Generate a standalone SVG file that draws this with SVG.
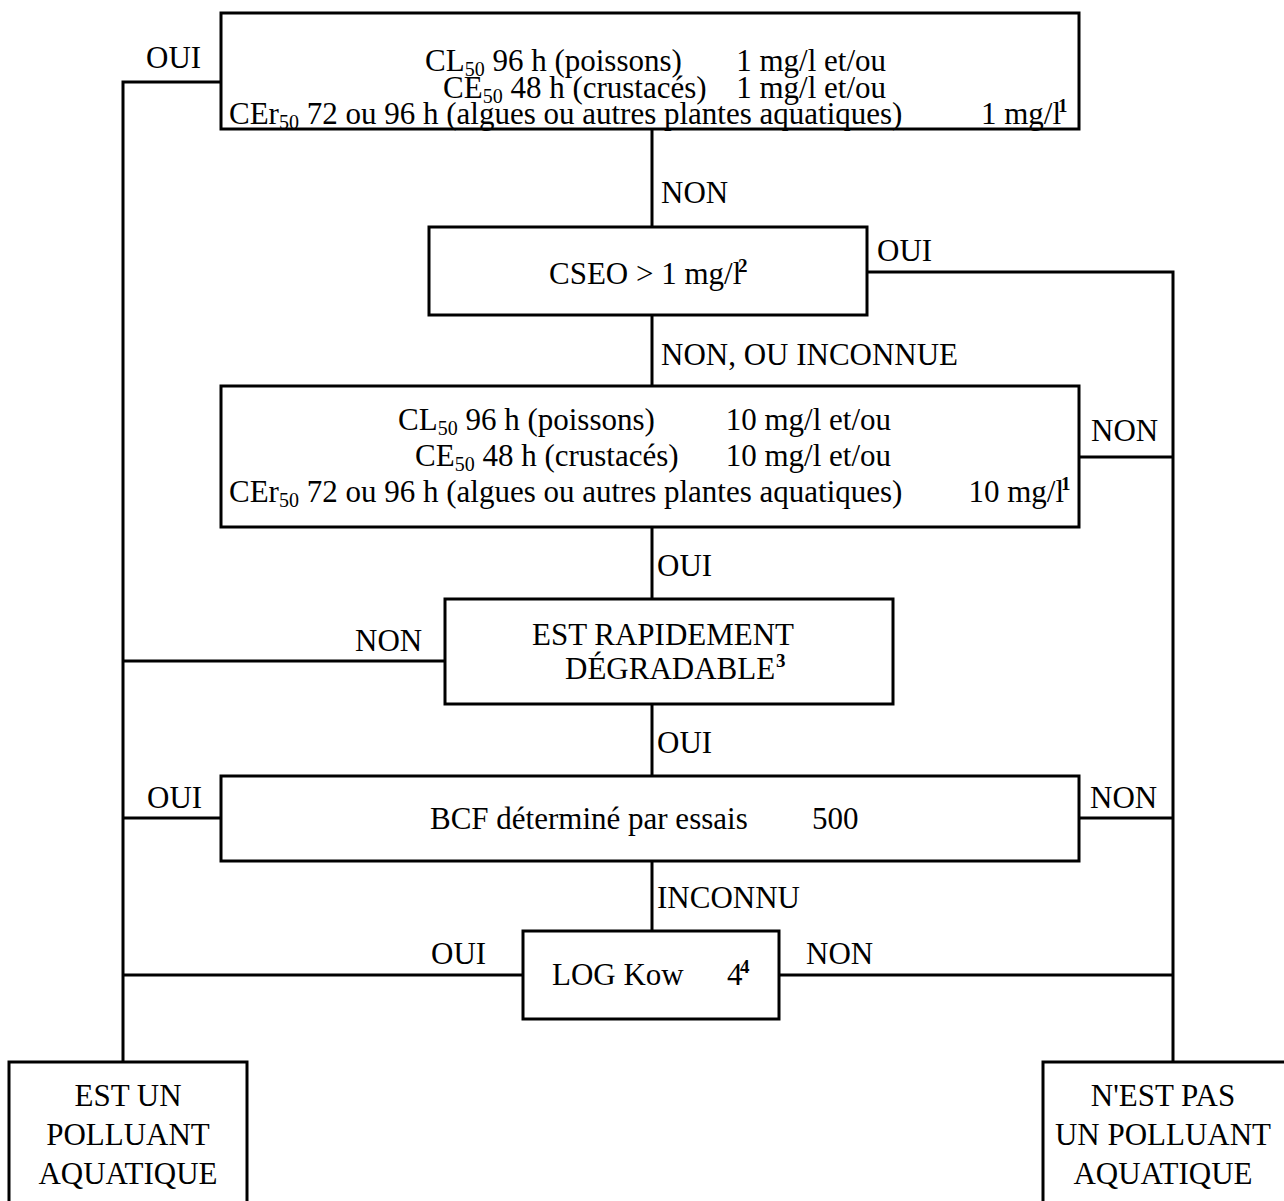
<svg xmlns="http://www.w3.org/2000/svg" width="1284" height="1201" viewBox="0 0 1284 1201">
<style>
  rect.box { fill: #fff; stroke: #000; stroke-width: 3; }
  .c path { stroke: #000; stroke-width: 3; fill: none; }
  text { font-family: "Liberation Serif", "Times New Roman", serif; font-size: 31px; fill: #000; }
  .sub { font-size: 20px; }
  .sup { font-size: 19px; font-weight: bold; }
  .m { text-anchor: middle; }
  .e { text-anchor: end; }
</style>
<rect width="1284" height="1201" fill="#fff"/>
<g class="c" id="connectors">
  <path d="M652,129 V227"/>
  <path d="M652,315 V386"/>
  <path d="M652,527 V599"/>
  <path d="M652,704 V776"/>
  <path d="M652,861 V931"/>
  <path d="M221,82 H123 V1062"/>
  <path d="M445,661 H123"/>
  <path d="M221,818 H123"/>
  <path d="M523,975 H123"/>
  <path d="M867,272 H1173 V1062"/>
  <path d="M1079,457 H1173"/>
  <path d="M1079,818 H1173"/>
  <path d="M779,975 H1173"/>
</g>
<g id="labels">
  <text x="146" y="68">OUI</text>
  <text x="661" y="203">NON</text>
  <text x="877" y="261">OUI</text>
  <text x="661" y="365">NON, OU INCONNUE</text>
  <text x="1091" y="441">NON</text>
  <text x="657" y="576">OUI</text>
  <text x="355" y="651">NON</text>
  <text x="657" y="753">OUI</text>
  <text x="147" y="808">OUI</text>
  <text x="1090" y="808">NON</text>
  <text x="657" y="908">INCONNU</text>
  <text x="431" y="964">OUI</text>
  <text x="806" y="964">NON</text>
</g>
<g id="n1">
  <rect class="box" x="221" y="13" width="858" height="116"/>
  <text x="425" y="71">CL<tspan class="sub" dy="5">50</tspan><tspan dy="-5"> 96 h (poissons)</tspan></text>
  <text class="e" x="886" y="71">1 mg/l et/ou</text>
  <text x="443" y="98">CE<tspan class="sub" dy="5">50</tspan><tspan dy="-5"> 48 h (crustacés)</tspan></text>
  <text class="e" x="886" y="98">1 mg/l et/ou</text>
  <text x="229" y="124">CEr<tspan class="sub" dy="5">50</tspan><tspan dy="-5"> 72 ou 96 h (algues ou autres plantes aquatiques)</tspan></text>
  <text class="e" x="1061" y="124">1 mg/l</text>
  <text class="sup" x="1058" y="112">1</text>
</g>
<g id="n2">
  <rect class="box" x="429" y="227" width="438" height="88"/>
  <text x="549" y="284">CSEO &gt; 1 mg/l</text>
  <text class="sup" x="738" y="272">2</text>
</g>
<g id="n3">
  <rect class="box" x="221" y="386" width="858" height="141"/>
  <text x="398" y="430">CL<tspan class="sub" dy="5">50</tspan><tspan dy="-5"> 96 h (poissons)</tspan></text>
  <text class="e" x="891" y="430">10 mg/l et/ou</text>
  <text x="415" y="466">CE<tspan class="sub" dy="5">50</tspan><tspan dy="-5"> 48 h (crustacés)</tspan></text>
  <text class="e" x="891" y="466">10 mg/l et/ou</text>
  <text x="229" y="502">CEr<tspan class="sub" dy="5">50</tspan><tspan dy="-5"> 72 ou 96 h (algues ou autres plantes aquatiques)</tspan></text>
  <text class="e" x="1064" y="502">10 mg/l</text>
  <text class="sup" x="1061" y="490">1</text>
</g>
<g id="n4">
  <rect class="box" x="445" y="599" width="448" height="105"/>
  <text class="m" x="663" y="645">EST RAPIDEMENT</text>
  <text x="565" y="679">DÉGRADABLE</text>
  <text class="sup" x="776" y="667">3</text>
</g>
<g id="n5">
  <rect class="box" x="221" y="776" width="858" height="85"/>
  <text x="430" y="829">BCF déterminé par essais</text>
  <text x="812" y="829">500</text>
</g>
<g id="n6">
  <rect class="box" x="523" y="931" width="256" height="88"/>
  <text x="552" y="985">LOG Kow</text>
  <text x="727" y="985">4</text>
  <text class="sup" x="740" y="973">4</text>
</g>
<g id="n7">
  <rect class="box" x="9" y="1062" width="238" height="160"/>
  <text class="m" x="128" y="1106">EST UN</text>
  <text class="m" x="128" y="1145">POLLUANT</text>
  <text class="m" x="128" y="1184">AQUATIQUE</text>
</g>
<g id="n8">
  <rect class="box" x="1043" y="1062" width="260" height="160"/>
  <text class="m" x="1163" y="1106">N'EST PAS</text>
  <text class="m" x="1163" y="1145">UN POLLUANT</text>
  <text class="m" x="1163" y="1184">AQUATIQUE</text>
</g>
</svg>
